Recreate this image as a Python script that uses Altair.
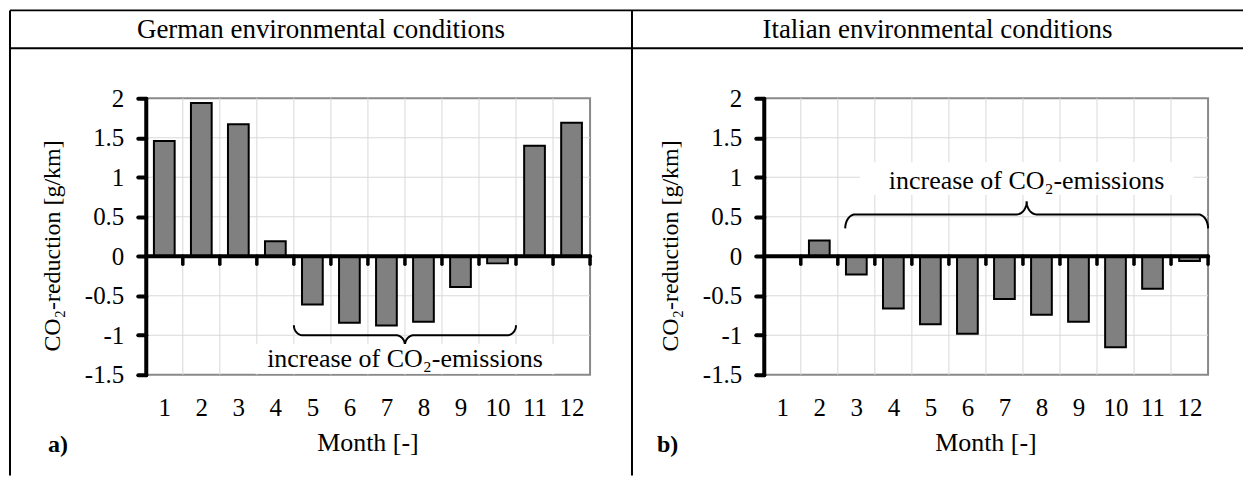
import altair as alt
import pandas as pd
import numpy as np

# ---------------- data ----------------
months = list(range(1, 13))
german_reduction = [1.46, 1.94, 1.67, 0.19, -0.61, -0.84, -0.875, -0.83, -0.39, -0.09, 1.40, 1.69]
italian_reduction = [0.0, 0.20, -0.23, -0.66, -0.86, -0.98, -0.54, -0.74, -0.83, -1.15, -0.41, -0.06]
y_ticks = [-1.5, -1, -0.5, 0, 0.5, 1, 1.5, 2]
panel_titles = ["German environmental conditions", "Italian environmental conditions"]
panel_tags = ["a)", "b)"]
x_title = "Month [-]"
y_title = "CO₂-reduction [g/km]"
brace_text = "increase of CO₂-emissions"
# brace annotations: (from month boundary, to, level of the brace line)
german_brace = (4.5, 10.5, -1.0)
italian_brace = (2.7, 12.5, 0.53)
german_text_pos = (7.5, -1.40)
italian_text_pos = (7.6, 0.85)

# ---------------- style ----------------
W, H = 445, 277
FONT = "Liberation Serif"
XDOM = [0.5, 12.5]
YDOM = [-1.5, 2]
PX_X = W / (XDOM[1] - XDOM[0])
PX_Y = H / (YDOM[1] - YDOM[0])
HALF_BAR = 0.28

xs = alt.Scale(domain=XDOM, nice=False, zero=False)
ys = alt.Scale(domain=YDOM, nice=False, zero=False)

x_axis = alt.Axis(values=months, labelFont=FONT, labelFontSize=25, labelColor="black",
                  ticks=False, tickSize=0, domain=False, grid=False, labelPadding=21,
                  labelAngle=0, title=None, labelFlush=False, labelOverlap=False)
y_axis = alt.Axis(values=y_ticks, labelExpr="replace(datum.label, '\u2212', '-')",
                  format="~g", labelFont=FONT,
                  labelFontSize=25, labelColor="black", tickSize=8, tickWidth=4,
                  tickColor="black", tickCap="round", domainWidth=4, domainColor="black",
                  domainCap="round", grid=False, labelPadding=14, title=None, zindex=1,
                  labelFlush=False, labelOverlap=False)


def X(f):
    return alt.X(f, type="quantitative", scale=xs, axis=x_axis)


def Y(f):
    return alt.Y(f, type="quantitative", scale=ys, axis=y_axis)


def brace_df(x0, x1, level, tip_down, a, b, r):
    L = (x1 - x0) * PX_X
    t = np.linspace(0, np.pi / 2, 14)
    u = list(r - r * np.cos(t)) + list(L / 2 - r + r * np.sin(t))
    v = list(-a + a * np.sin(t)) + list(b - b * np.cos(t))
    u_full = u + [L - q for q in reversed(u)]
    v_full = v + list(reversed(v))
    sign = -1 if tip_down else 1
    return pd.DataFrame({
        "x": [x0 + q / PX_X for q in u_full],
        "y": [level + sign * q / PX_Y for q in v_full],
        "o": list(range(len(u_full))),
    })


def pix_rule(x1, x2, y1, y2):
    return alt.Chart(pd.DataFrame({"k": [0]})).mark_rule(color="black", strokeWidth=2).encode(
        x=alt.value(x1), x2=alt.value(x2), y=alt.value(y1), y2=alt.value(y2))


def pix_text(txt, x, y, size=26, bold=False, angle=0, align="center"):
    return alt.Chart(pd.DataFrame({"t": [txt]})).mark_text(
        font=FONT, fontSize=size, fontWeight="bold" if bold else "normal", color="black",
        align=align, baseline="alphabetic", angle=angle).encode(
        x=alt.value(x), y=alt.value(y), text="t:N")


def panel(values, title, tag, brace, tip_down, a, b, r, text_pos, box, frame, tag_x):
    df = pd.DataFrame({"month": months, "value": values})
    df["lo"] = df["month"] - HALF_BAR
    df["hi"] = df["month"] + HALF_BAR
    df["zero"] = 0.0
    inner_bounds = pd.DataFrame({"b": [m + 0.5 for m in months[:-1]]})
    tick_bounds = pd.DataFrame({"b": [m + 0.5 for m in months], "z": [0.0] * 12})
    hgrid = pd.DataFrame({"g": [v for v in y_ticks if v not in (YDOM[0], YDOM[1])]})

    vgrid_l = alt.Chart(inner_bounds).mark_rule(color="#d9d9d9", strokeWidth=1).encode(x=X("b"))
    hgrid_l = alt.Chart(hgrid).mark_rule(color="#d9d9d9", strokeWidth=1).encode(y=Y("g"))
    bars = alt.Chart(df).mark_bar(fill="#808080", stroke="black", strokeWidth=2).encode(
        x=X("lo"), x2="hi", y=Y("value"), y2="zero")
    zero = alt.Chart(pd.DataFrame({"z": [0.0]})).mark_rule(
        color="black", strokeWidth=4, strokeCap="round").encode(y=Y("z"))
    zticks = alt.Chart(tick_bounds).mark_rule(
        color="black", strokeWidth=3.5, strokeCap="round", y2Offset=8).encode(
        x=X("b"), y=Y("z"), y2="z")
    bdf = brace_df(brace[0], brace[1], brace[2], tip_down, a, b, r)
    brace_l = alt.Chart(bdf).mark_line(color="black", strokeWidth=2).encode(
        x=X("x"), y=Y("y"), order="o:Q")
    tdf = pd.DataFrame({"x": [text_pos[0]], "y": [text_pos[1]], "t": [brace_text]})
    tbox = alt.Chart(tdf).mark_rect(fill="white", xOffset=-box[0], x2Offset=box[0],
                                    yOffset=-box[1], y2Offset=box[2]).encode(
        x=X("x"), x2="x", y=Y("y"), y2="y")
    ttext = alt.Chart(tdf).mark_text(font=FONT, fontSize=26, color="black",
                                     baseline="alphabetic", align="center").encode(
        x=X("x"), y=Y("y"), text="t:N")

    deco = [pix_rule(*f) for f in frame]
    deco += [
        pix_text(title, frame[0][0] / 2 + frame[0][1] / 2, -60, size=27),
        pix_text(tag, tag_x, 354, size=24, bold=True, align="left"),
        pix_text(x_title, W / 2, 353),
        pix_text(y_title, -86, 148, size=24, angle=270),
    ]
    return alt.layer(vgrid_l, hgrid_l, bars, zero, zticks, brace_l, tbox, ttext, *deco).properties(
        width=W, height=H)


left_frame = [(-136, 487, -88, -88), (-136, 487, -50, -50), (-136, -136, -88, 378), (487, 487, -88, 378)]
right_frame = [(-132, 480, -88, -88), (-132, 480, -50, -50)]

left = panel(german_reduction, panel_titles[0], panel_tags[0], german_brace, True, 10, 10, 9,
             german_text_pos, (150, 23, 7), left_frame, -98)
right = panel(italian_reduction, panel_titles[1], panel_tags[1], italian_brace, False, 14, 13, 10,
              italian_text_pos, (167, 27, 6), right_frame, -107)

chart = alt.hconcat(left, right, spacing=174, bounds="flush").properties(padding=0).configure_view(
    stroke="#898989", strokeWidth=2)

chart.save("out.html", embed_options={"renderer": "svg", "actions": False})
